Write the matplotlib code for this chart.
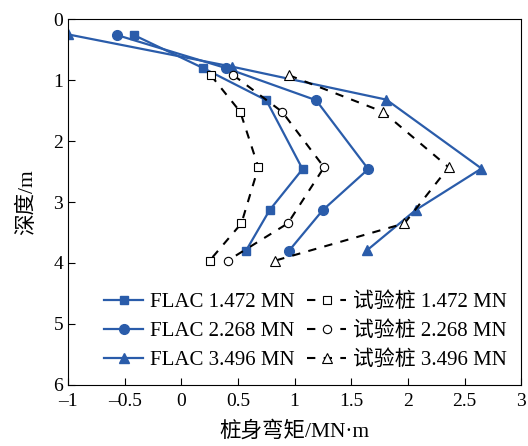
import matplotlib
matplotlib.use("Agg")
import matplotlib.pyplot as plt

plt.rcParams['font.family'] = ['Liberation Serif', 'Noto Sans CJK SC']
plt.rcParams['axes.unicode_minus'] = False

# FLAC results (moment, depth)
flac_depth = [0.26, 0.80, 1.33, 2.46, 3.13, 3.80]
flac_1472 = [-0.42, 0.19, 0.75, 1.07, 0.78, 0.57]
flac_2268 = [-0.57, 0.39, 1.19, 1.65, 1.25, 0.95]
flac_3496 = [-1.0, 0.45, 1.81, 2.65, 2.07, 1.64]
flac_3496_depth = [0.25, 0.78, 1.32, 2.45, 3.13, 3.79]

# test pile measurements
test_depth = [0.92, 1.52, 2.43, 3.35, 3.96]
test_1472 = [0.26, 0.52, 0.68, 0.53, 0.25]
test_2268 = [0.46, 0.89, 1.26, 0.94, 0.41]
test_3496 = [0.95, 1.78, 2.36, 1.97, 0.83]

xticks = [-1, -0.5, 0, 0.5, 1, 1.5, 2, 2.5, 3]
xticklabels = ['\u20131', '\u20130.5', '0', '0.5', '1', '1.5', '2', '2.5', '3']

blue = '#2a5caa'

fig = plt.figure(figsize=(5.28, 4.46), dpi=100)
ax = fig.add_axes([0.129, 0.137, 0.858, 0.820])

ax.plot(flac_1472, flac_depth, '-s', color=blue, lw=1.6, ms=6, label='FLAC 1.472 MN')
ax.plot(flac_2268, flac_depth, '-o', color=blue, lw=1.6, ms=7, label='FLAC 2.268 MN')
ax.plot(flac_3496, flac_3496_depth, '-^', color=blue, lw=1.6, ms=7, label='FLAC 3.496 MN')

ax.plot(test_1472, test_depth, '--s', color='black', lw=1.5, ms=5.5, mfc='white', mew=0.8,
        dashes=(4, 4), label='试验桩 1.472 MN')
ax.plot(test_2268, test_depth, '--o', color='black', lw=1.5, ms=6, mfc='white', mew=0.8,
        dashes=(4, 4), label='试验桩 2.268 MN')
ax.plot(test_3496, test_depth, '--^', color='black', lw=1.5, ms=7, mfc='white', mew=0.8,
        dashes=(4, 4), label='试验桩 3.496 MN')

ax.set_xlim(-1, 3)
ax.set_ylim(6, 0)
ax.set_xticks(xticks)
ax.set_xticklabels(xticklabels)
ax.set_yticks(range(7))
ax.tick_params(direction='in', labelsize=14, length=5)
ax.tick_params(axis='x', pad=6)
ax.set_xlabel('桩身弯矩/MN·m', fontsize=15.5, labelpad=8)
ax.set_ylabel('深度/m', fontsize=15.5, labelpad=12)

ax.legend(ncol=2, loc='lower right', frameon=False, fontsize=15, handlelength=1.9,
          columnspacing=0.6, handletextpad=0.3, labelspacing=0.45,
          borderaxespad=0.3, bbox_to_anchor=(1.0, 0.0))

fig.savefig('out.png', dpi=100)
